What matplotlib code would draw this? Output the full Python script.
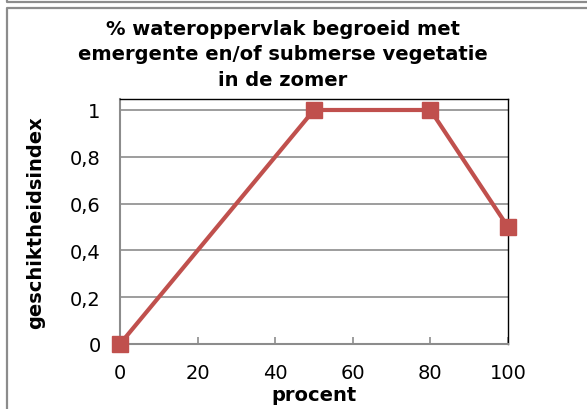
import matplotlib
matplotlib.use("Agg")
import matplotlib.pyplot as plt
from matplotlib.lines import Line2D
from matplotlib.ticker import FuncFormatter

procent = [0, 50, 80, 100]
index = [0, 1, 1, 0.5]
x_ticks = [0, 20, 40, 60, 80, 100]
y_ticks = [0, 0.2, 0.4, 0.6, 0.8, 1]

W, H = 587, 410
fig = plt.figure(figsize=(W/100, H/100), dpi=100)
fig.patch.set_facecolor("white")

def fline(xs, ys):
    fig.add_artist(Line2D([x/W for x in xs], [1-y/H for y in ys], transform=fig.transFigure,
                          color="#8c8c8c", linewidth=1.6))

# frames (pixel coordinates from top-left)
fline([6.5, 6.5, 590], [-2, 2.5, 2.5])
fline([6.5, 6.5, 590], [415, 9, 9])

left, right, top, bottom = 120, 508, 100, 345
ax = fig.add_axes([left/W, 1-bottom/H, (right-left)/W, (bottom-top)/H])
ax.set_xlim(0, 100)
ax.set_ylim(0, 1.047)
ax.set_xticks(x_ticks)
ax.set_yticks(y_ticks)
ax.yaxis.set_major_formatter(FuncFormatter(lambda v, p: ("%g" % v).replace(".", ",")))
ax.grid(axis="y", color="#8c8c8c", linewidth=1.2)
ax.set_axisbelow(True)
for s in ["top", "right"]:
    ax.spines[s].set_color("black")
    ax.spines[s].set_linewidth(1.0)
for s in ["left", "bottom"]:
    ax.spines[s].set_color("#8c8c8c")
    ax.spines[s].set_linewidth(1.5)
ax.tick_params(axis="x", direction="in", length=5, color="#8c8c8c", width=1.2,
               labelsize=14, pad=14)
ax.tick_params(axis="y", length=0, labelsize=14, pad=14)

ax.plot(procent, index, color="#C0504D", linewidth=3, marker="s", markersize=11,
        markerfacecolor="#C0504D", markeredgecolor="#C0504D", clip_on=False, zorder=3)

ax.set_xlabel("procent", fontsize=14, fontweight="bold", labelpad=2)
ax.set_ylabel("geschiktheidsindex", fontsize=14, fontweight="bold", labelpad=18)
fig.text(0.482, 1-55/H, "% wateroppervlak begroeid met\nemergente en/of submerse vegetatie\nin de zomer",
         ha="center", va="center", fontsize=14, fontweight="bold", linespacing=1.45)

fig.savefig("out.png", dpi=100)
